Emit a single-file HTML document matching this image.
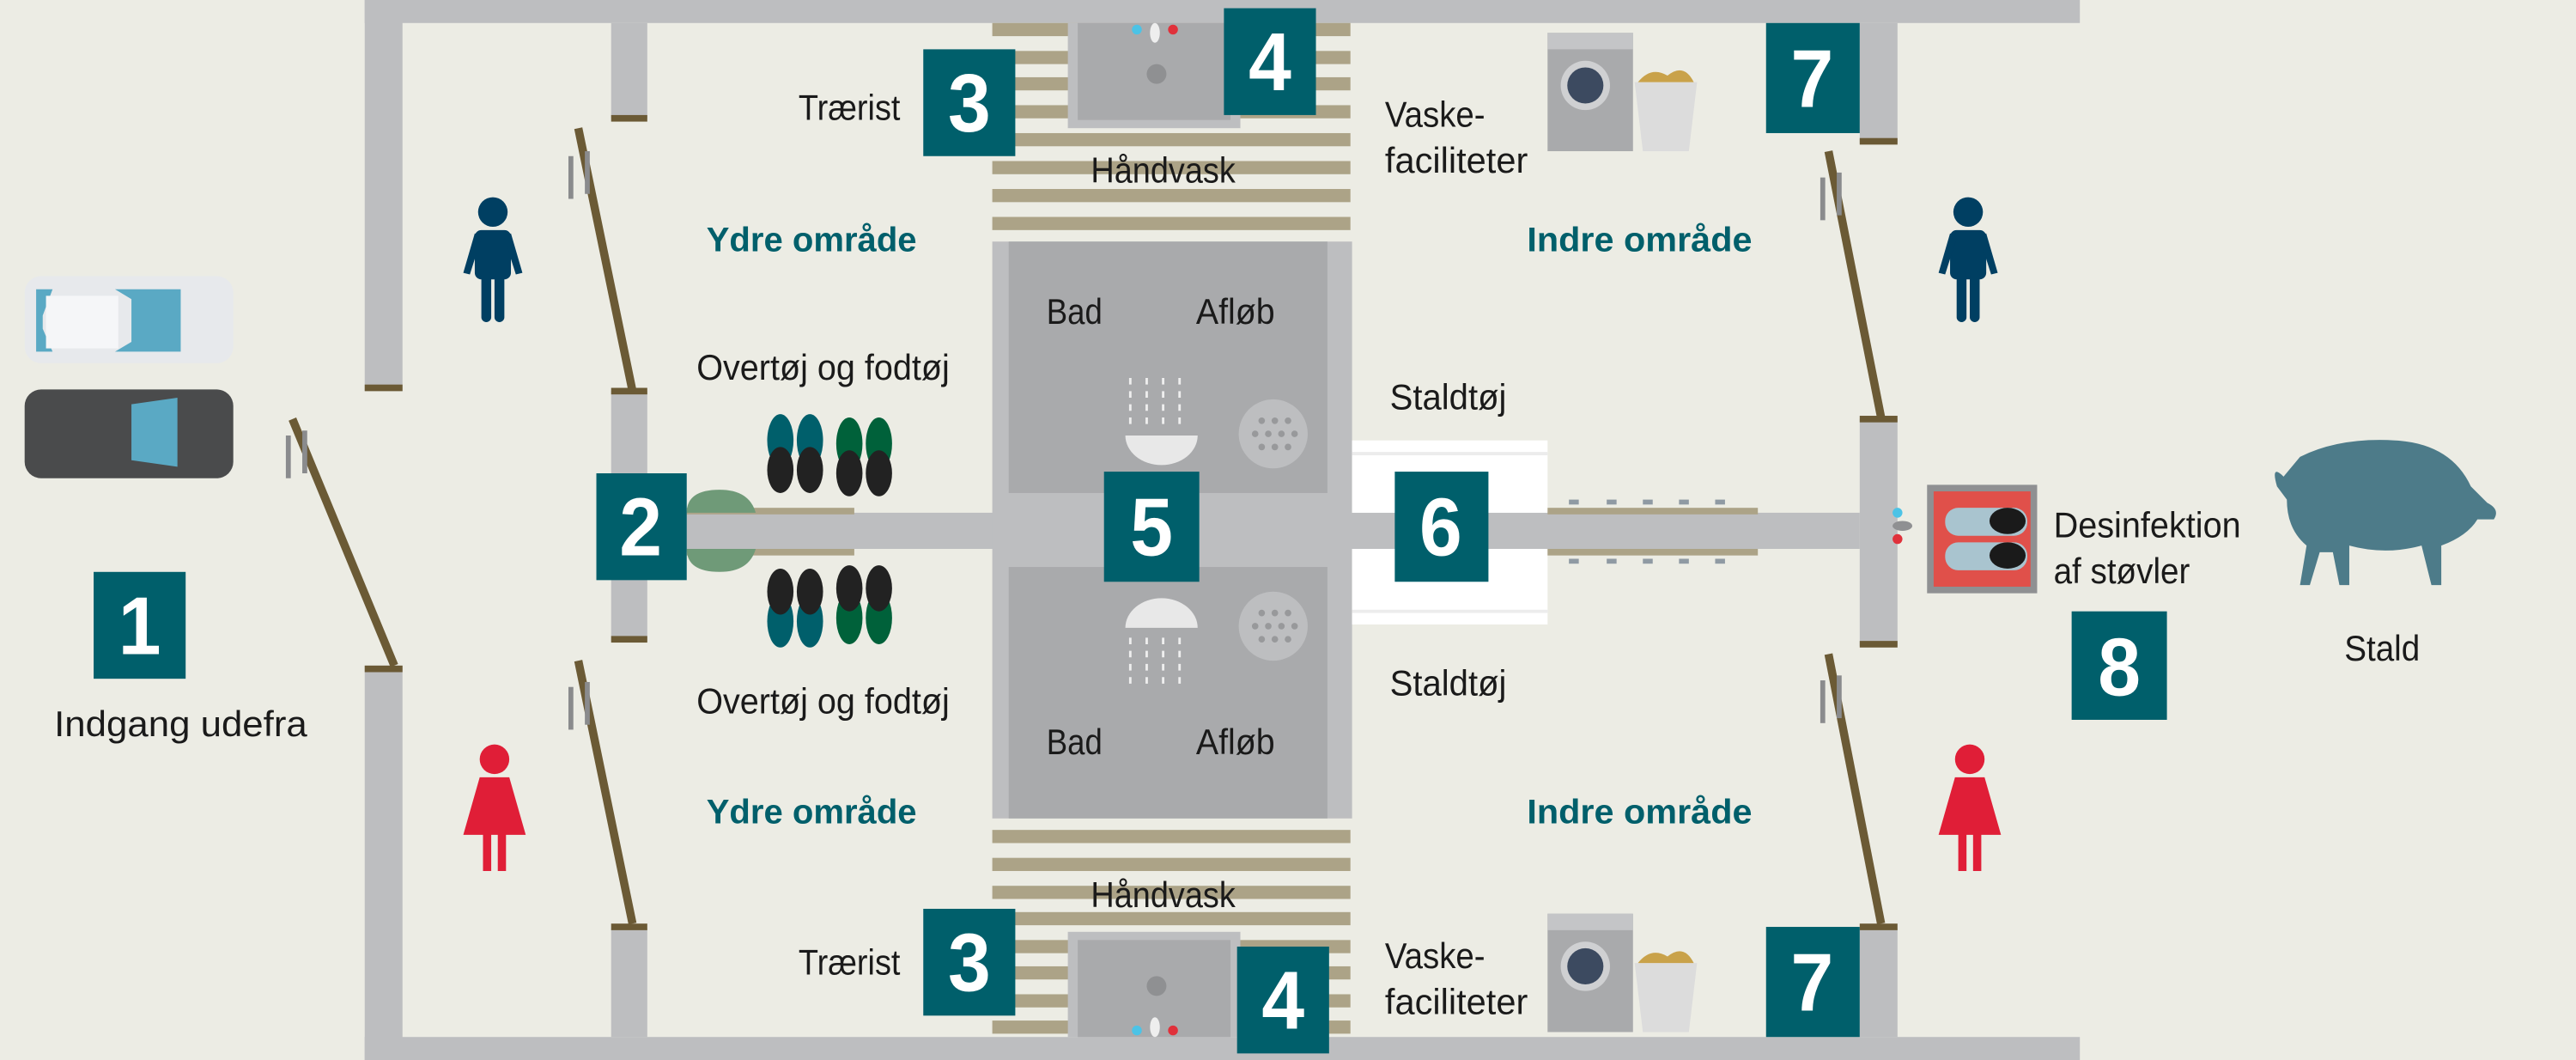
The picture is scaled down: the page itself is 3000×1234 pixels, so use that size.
<!DOCTYPE html>
<html><head><meta charset="utf-8"><style>
html,body{margin:0;padding:0;background:#ecece4;}
svg{display:block}
text{font-family:"Liberation Sans",sans-serif;fill:#1a1a1a;font-size:22px}
.n{font-family:"Liberation Sans","DejaVu Sans",sans-serif;font-weight:bold;fill:#fff;font-size:50px;text-anchor:middle}
.t{fill:#005f6b;font-weight:bold;font-size:21px;text-anchor:middle}
.c{text-anchor:middle}
</style></head><body>
<svg width="3000" height="1234" viewBox="0 0 1568 645" preserveAspectRatio="none" xmlns="http://www.w3.org/2000/svg">
<rect width="1568" height="645" fill="#ecece4"/>
<g fill="#bdbec0">
<rect x="222" y="0" width="1044" height="14"/>
<rect x="222" y="631" width="1044" height="14"/>
<rect x="222" y="0" width="23" height="238"/>
<rect x="222" y="405" width="23" height="240"/>
<rect x="372" y="14" width="22" height="58"/>
<rect x="372" y="238" width="22" height="152"/>
<rect x="372" y="565" width="22" height="66"/>
<rect x="1132" y="14" width="23" height="73"/>
<rect x="1132" y="255" width="23" height="138"/>
<rect x="1132" y="565" width="23" height="66"/>
<rect x="394" y="312" width="738" height="22"/>
</g>
<g fill="#6b5a35">
<rect x="222" y="234" width="23" height="4"/>
<rect x="222" y="405" width="23" height="4"/>
<rect x="372" y="70" width="22" height="4"/>
<rect x="372" y="236" width="22" height="4"/>
<rect x="372" y="387" width="22" height="4"/>
<rect x="372" y="562" width="22" height="4"/>
<rect x="1132" y="84" width="23" height="4"/>
<rect x="1132" y="253" width="23" height="4"/>
<rect x="1132" y="390" width="23" height="4"/>
<rect x="1132" y="562" width="23" height="4"/>
</g>
<g stroke="#6b5a35" stroke-width="5">
<line x1="178" y1="255" x2="240" y2="405"/>
<line x1="352" y1="78" x2="385" y2="238"/>
<line x1="352" y1="402" x2="385" y2="562"/>
<line x1="1113" y1="92" x2="1145" y2="254"/>
<line x1="1113" y1="398" x2="1145" y2="562"/>
</g>
<g fill="#8a8b8d">
<rect x="174" y="265" width="3" height="26"/><rect x="184" y="262" width="3" height="26"/>
<rect x="346" y="95" width="3" height="26"/><rect x="356" y="92" width="3" height="26"/>
<rect x="346" y="418" width="3" height="26"/><rect x="356" y="415" width="3" height="26"/>
<rect x="1108" y="108" width="3" height="26"/><rect x="1118" y="105" width="3" height="26"/>
<rect x="1108" y="414" width="3" height="26"/><rect x="1118" y="411" width="3" height="26"/>
</g>
<g fill="#aca387">
<rect x="604" y="14" width="218" height="8"/><rect x="604" y="31" width="218" height="8"/><rect x="604" y="47" width="218" height="8"/><rect x="604" y="64" width="218" height="8"/><rect x="604" y="81" width="218" height="8"/><rect x="604" y="98" width="218" height="8"/><rect x="604" y="115" width="218" height="8"/><rect x="604" y="132" width="218" height="8"/>
<rect x="604" y="505" width="218" height="8"/><rect x="604" y="522" width="218" height="8"/><rect x="604" y="539" width="218" height="8"/><rect x="604" y="555" width="218" height="8"/><rect x="604" y="572" width="218" height="8"/><rect x="604" y="588" width="218" height="8"/><rect x="604" y="605" width="218" height="8"/><rect x="604" y="621" width="218" height="8"/>
</g>
<rect x="650" y="14" width="105" height="64" fill="#bdbec0"/><rect x="656" y="14" width="93" height="59" fill="#a9aaac"/>
<rect x="650" y="567" width="105" height="64" fill="#bdbec0"/><rect x="656" y="572" width="93" height="59" fill="#a9aaac"/>
<circle cx="704" cy="45" r="6" fill="#8f9092"/><circle cx="704" cy="600" r="6" fill="#8f9092"/>
<circle cx="692" cy="18" r="3" fill="#4cc3e6"/><circle cx="714" cy="18" r="3" fill="#e0313b"/><ellipse cx="703" cy="20" rx="3" ry="6" fill="#eee"/>
<circle cx="692" cy="627" r="3" fill="#4cc3e6"/><circle cx="714" cy="627" r="3" fill="#e0313b"/><ellipse cx="703" cy="625" rx="3" ry="6" fill="#eee"/>
<rect x="604" y="147" width="219" height="351" fill="#bdbec0"/>
<rect x="614" y="147" width="194" height="153" fill="#a9aaac"/>
<rect x="614" y="345" width="194" height="153" fill="#a9aaac"/>
<circle cx="775" cy="264" r="21" fill="#bdbec0"/><circle cx="775" cy="381" r="21" fill="#bdbec0"/>
<g fill="#98999b">
<circle cx="768" cy="256" r="2"/><circle cx="776" cy="256" r="2"/><circle cx="784" cy="256" r="2"/><circle cx="764" cy="264" r="2"/><circle cx="772" cy="264" r="2"/><circle cx="780" cy="264" r="2"/><circle cx="788" cy="264" r="2"/><circle cx="768" cy="272" r="2"/><circle cx="776" cy="272" r="2"/><circle cx="784" cy="272" r="2"/>
<circle cx="768" cy="373" r="2"/><circle cx="776" cy="373" r="2"/><circle cx="784" cy="373" r="2"/><circle cx="764" cy="381" r="2"/><circle cx="772" cy="381" r="2"/><circle cx="780" cy="381" r="2"/><circle cx="788" cy="381" r="2"/><circle cx="768" cy="389" r="2"/><circle cx="776" cy="389" r="2"/><circle cx="784" cy="389" r="2"/>
</g>
<path d="M685 265 h44 a22 18 0 0 1 -44 0z" fill="#e8e8e8"/>
<path d="M685 382 h44 a22 18 0 0 0 -44 0z" fill="#e8e8e8"/>
<g stroke="#eee" stroke-width="1.5" stroke-dasharray="4 4"><line x1="688" y1="230" x2="688" y2="260"/><line x1="698" y1="230" x2="698" y2="260"/><line x1="708" y1="230" x2="708" y2="260"/><line x1="718" y1="230" x2="718" y2="260"/>
<line x1="688" y1="388" x2="688" y2="418"/><line x1="698" y1="388" x2="698" y2="418"/><line x1="708" y1="388" x2="708" y2="418"/><line x1="718" y1="388" x2="718" y2="418"/></g>
<rect x="823" y="268" width="119" height="44" fill="#fff"/><rect x="823" y="334" width="119" height="46" fill="#fff"/>
<rect x="823" y="275" width="119" height="2" fill="#ececec"/><rect x="823" y="371" width="119" height="2" fill="#ececec"/>
<rect x="942" y="309" width="128" height="4" fill="#aca387"/><rect x="942" y="334" width="128" height="4" fill="#aca387"/>
<g fill="#8f9aa3"><rect x="955" y="304" width="6" height="3"/><rect x="978" y="304" width="6" height="3"/><rect x="1000" y="304" width="6" height="3"/><rect x="1022" y="304" width="6" height="3"/><rect x="1044" y="304" width="6" height="3"/><rect x="955" y="340" width="6" height="3"/><rect x="978" y="340" width="6" height="3"/><rect x="1000" y="340" width="6" height="3"/><rect x="1022" y="340" width="6" height="3"/><rect x="1044" y="340" width="6" height="3"/></g>
<rect x="418" y="309" width="102" height="4" fill="#aca387"/><rect x="418" y="334" width="102" height="4" fill="#aca387"/>
<path d="M418 312 q0-14 20-14 q18 0 22 14z" fill="#6f9a78"/><path d="M418 334 q0 14 20 14 q18 0 22-14z" fill="#6f9a78"/>
<g>
<ellipse cx="475" cy="268" rx="8" ry="16" fill="#005f6b"/><ellipse cx="475" cy="286" rx="8" ry="14" fill="#222"/>
<ellipse cx="493" cy="268" rx="8" ry="16" fill="#005f6b"/><ellipse cx="493" cy="286" rx="8" ry="14" fill="#222"/>
<ellipse cx="517" cy="270" rx="8" ry="16" fill="#00613a"/><ellipse cx="517" cy="288" rx="8" ry="14" fill="#222"/>
<ellipse cx="535" cy="270" rx="8" ry="16" fill="#00613a"/><ellipse cx="535" cy="288" rx="8" ry="14" fill="#222"/>
<ellipse cx="475" cy="378" rx="8" ry="16" fill="#005f6b"/><ellipse cx="475" cy="360" rx="8" ry="14" fill="#222"/>
<ellipse cx="493" cy="378" rx="8" ry="16" fill="#005f6b"/><ellipse cx="493" cy="360" rx="8" ry="14" fill="#222"/>
<ellipse cx="517" cy="376" rx="8" ry="16" fill="#00613a"/><ellipse cx="517" cy="358" rx="8" ry="14" fill="#222"/>
<ellipse cx="535" cy="376" rx="8" ry="16" fill="#00613a"/><ellipse cx="535" cy="358" rx="8" ry="14" fill="#222"/>
</g>
<!-- cars -->
<rect x="15" y="168" width="127" height="53" rx="10" fill="#e7e9ec"/>
<path d="M22 176 h10 l-6 16 v8 l6 14 h-10z" fill="#5aa9c4"/>
<path d="M70 176 h40 v38 h-40 l10-6 v-26z" fill="#5aa9c4"/>
<rect x="28" y="180" width="44" height="32" fill="#f5f6f8"/>
<rect x="15" y="237" width="127" height="54" rx="10" fill="#4a4b4c"/>
<path d="M80 246 l28-4 v42 l-28-4z" fill="#5aa9c4"/>
<g fill="#003f62">
<circle cx="300" cy="129" r="9"/><rect x="289" y="140" width="22" height="30" rx="4"/><rect x="293" y="165" width="6" height="31" rx="3"/><rect x="301" y="165" width="6" height="31" rx="3"/><path d="M289 142 l-7 24 4 1 7-22z M311 142 l7 24-4 1-7-22z"/>
<circle cx="1198" cy="129" r="9"/><rect x="1187" y="140" width="22" height="30" rx="4"/><rect x="1191" y="165" width="6" height="31" rx="3"/><rect x="1199" y="165" width="6" height="31" rx="3"/><path d="M1187 142 l-7 24 4 1 7-22z M1209 142 l7 24-4 1-7-22z"/>
</g>
<g fill="#e01e37">
<circle cx="301" cy="462" r="9"/><path d="M292 473 h18 l10 35 h-38z"/><rect x="294" y="505" width="5" height="25"/><rect x="303" y="505" width="5" height="25"/>
<circle cx="1199" cy="462" r="9"/><path d="M1190 473 h18 l10 35 h-38z"/><rect x="1192" y="505" width="5" height="25"/><rect x="1201" y="505" width="5" height="25"/>
</g>
<g>
<rect x="942" y="20" width="52" height="72" fill="#a9aaac"/><rect x="942" y="20" width="52" height="10" fill="#c4c5c7"/><circle cx="965" cy="52" r="15" fill="#cfd0d2"/><circle cx="965" cy="52" r="11" fill="#3c4a60"/>
<path d="M995 50 h38 l-5 42 h-28z" fill="#dcdcdc"/><path d="M997 50 q8-10 18-4 q10-8 16 4z" fill="#c9a24a"/>
<rect x="942" y="556" width="52" height="72" fill="#a9aaac"/><rect x="942" y="556" width="52" height="10" fill="#c4c5c7"/><circle cx="965" cy="588" r="15" fill="#cfd0d2"/><circle cx="965" cy="588" r="11" fill="#3c4a60"/>
<path d="M995 586 h38 l-5 42 h-28z" fill="#dcdcdc"/><path d="M997 586 q8-10 18-4 q10-8 16 4z" fill="#c9a24a"/>
</g>
<rect x="1173" y="295" width="67" height="66" fill="#8f9092"/><rect x="1177" y="299" width="59" height="58" fill="#e0504a"/>
<rect x="1184" y="309" width="50" height="17" rx="8" fill="#a9c4cf"/><ellipse cx="1222" cy="317" rx="11" ry="8" fill="#1a1a1a"/>
<rect x="1184" y="330" width="50" height="17" rx="8" fill="#a9c4cf"/><ellipse cx="1222" cy="338" rx="11" ry="8" fill="#1a1a1a"/>
<circle cx="1155" cy="312" r="3" fill="#4cc3e6"/><circle cx="1155" cy="328" r="3" fill="#e0313b"/><ellipse cx="1158" cy="320" rx="6" ry="3" fill="#8f9092"/>
<path d="M1390 290 q-8-8-4 6 l6 8 q0 18 12 28 l-4 24 h6 l6-20 h8 l4 20 h6 l0-24 q22 6 44 0 l6 24 h6 l0-24 q16-6 22-16 l10 0 q4-6-4-10 l-10-10 q-12-26-46-28 q-34-2-58 10z" fill="#4d7b89"/>
<g fill="#005f6b">
<rect x="57" y="348" width="56" height="65"/>
<rect x="363" y="288" width="55" height="65"/>
<rect x="562" y="30" width="56" height="65"/>
<rect x="745" y="5" width="56" height="65"/>
<rect x="562" y="553" width="56" height="65"/>
<rect x="753" y="576" width="56" height="65"/>
<rect x="672" y="287" width="58" height="67"/>
<rect x="849" y="287" width="57" height="67"/>
<rect x="1075" y="14" width="57" height="67"/>
<rect x="1075" y="564" width="57" height="67"/>
<rect x="1261" y="372" width="58" height="66"/>
</g>
<g>
<text class="n" x="85" y="398" textLength="26" lengthAdjust="spacingAndGlyphs">1</text>
<text class="n" x="390" y="338" textLength="26" lengthAdjust="spacingAndGlyphs">2</text>
<text class="n" x="590" y="80" textLength="26" lengthAdjust="spacingAndGlyphs">3</text>
<text class="n" x="773" y="55" textLength="26" lengthAdjust="spacingAndGlyphs">4</text>
<text class="n" x="590" y="603" textLength="26" lengthAdjust="spacingAndGlyphs">3</text>
<text class="n" x="781" y="626" textLength="26" lengthAdjust="spacingAndGlyphs">4</text>
<text class="n" x="701" y="338" textLength="26" lengthAdjust="spacingAndGlyphs">5</text>
<text class="n" x="877" y="338" textLength="26" lengthAdjust="spacingAndGlyphs">6</text>
<text class="n" x="1103" y="65" textLength="26" lengthAdjust="spacingAndGlyphs">7</text>
<text class="n" x="1103" y="615" textLength="26" lengthAdjust="spacingAndGlyphs">7</text>
<text class="n" x="1290" y="423" textLength="26" lengthAdjust="spacingAndGlyphs">8</text>
</g>
<g>
<text x="33" y="448" textLength="154" lengthAdjust="spacingAndGlyphs">Indgang udefra</text>
<text x="486" y="73" textLength="62" lengthAdjust="spacingAndGlyphs">Trærist</text>
<text x="486" y="593" textLength="62" lengthAdjust="spacingAndGlyphs">Trærist</text>
<text x="664" y="111" textLength="88" lengthAdjust="spacingAndGlyphs">Håndvask</text>
<text x="664" y="552" textLength="88" lengthAdjust="spacingAndGlyphs">Håndvask</text>
<text class="t" x="494" y="153" textLength="128" lengthAdjust="spacingAndGlyphs">Ydre område</text>
<text class="t" x="494" y="501" textLength="128" lengthAdjust="spacingAndGlyphs">Ydre område</text>
<text class="t" x="998" y="153" textLength="137" lengthAdjust="spacingAndGlyphs">Indre område</text>
<text class="t" x="998" y="501" textLength="137" lengthAdjust="spacingAndGlyphs">Indre område</text>
<text x="424" y="231" textLength="154" lengthAdjust="spacingAndGlyphs">Overtøj og fodtøj</text>
<text x="424" y="434" textLength="154" lengthAdjust="spacingAndGlyphs">Overtøj og fodtøj</text>
<text x="637" y="197" textLength="34" lengthAdjust="spacingAndGlyphs">Bad</text>
<text x="728" y="197" textLength="48" lengthAdjust="spacingAndGlyphs">Afløb</text>
<text x="637" y="459" textLength="34" lengthAdjust="spacingAndGlyphs">Bad</text>
<text x="728" y="459" textLength="48" lengthAdjust="spacingAndGlyphs">Afløb</text>
<text x="846" y="249" textLength="71" lengthAdjust="spacingAndGlyphs">Staldtøj</text>
<text x="846" y="423" textLength="71" lengthAdjust="spacingAndGlyphs">Staldtøj</text>
<text x="843" y="77" textLength="61" lengthAdjust="spacingAndGlyphs">Vaske-</text><text x="843" y="105" textLength="87" lengthAdjust="spacingAndGlyphs">faciliteter</text>
<text x="843" y="589" textLength="61" lengthAdjust="spacingAndGlyphs">Vaske-</text><text x="843" y="617" textLength="87" lengthAdjust="spacingAndGlyphs">faciliteter</text>
<text x="1250" y="327" textLength="114" lengthAdjust="spacingAndGlyphs">Desinfektion</text><text x="1250" y="355" textLength="83" lengthAdjust="spacingAndGlyphs">af støvler</text>
<text x="1427" y="402" textLength="46" lengthAdjust="spacingAndGlyphs">Stald</text>
</g>
</svg>
</body></html>
